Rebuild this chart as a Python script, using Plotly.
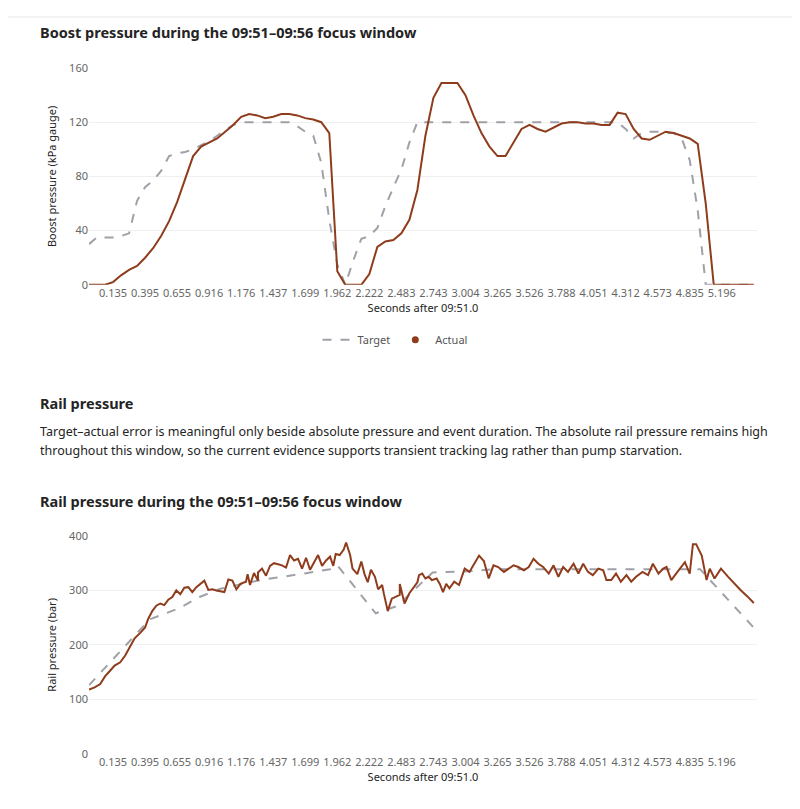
import plotly.graph_objects as go

# sample index -> timestamp label (every 4th sample labelled)
tick_idx = list(range(3, 80, 4))
tick_labels = ["0.135", "0.395", "0.655", "0.916", "1.176", "1.437", "1.699", "1.962", "2.222", "2.483",
               "2.743", "3.004", "3.265", "3.526", "3.788", "4.051", "4.312", "4.573", "4.835", "5.196"]

boost_target = [30, 35, 35, 35, 36, 38, 62, 72, 77, 84, 95, 97, 98, 100, 103, 106, 110, 114, 118, 120,
                120, 120, 120, 120, 120, 120, 117, 113, 110, 90, 48, 15, 0, 18, 34, 36, 42, 58, 72, 85,
                105, 120, 120, 120, 120, 120, 120, 120, 120, 120, 120, 120, 120, 120, 120, 120, 120, 120, 120, 120,
                120, 120, 120, 120, 120, 120, 120, 115, 108, 112, 113, 113, 112, 112, 108, 92, 55, 0, 0, 0,
                0, 0, 0, 0]
boost_actual = [0, 0, 0, 2, 7, 11, 14, 20, 27, 36, 47, 61, 78, 95, 102, 105, 108, 113, 118, 124,
                126, 125, 123, 124, 126, 126, 125, 123, 122, 120, 112, 10, 0, 0, 0, 8, 28, 32, 33, 38,
                48, 70, 110, 138, 149, 149, 149, 140, 125, 112, 102, 95, 95, 105, 115, 118, 115, 113, 116, 119,
                120, 120, 119, 119, 118, 118, 127, 126, 115, 108, 107, 110, 113, 112, 110, 108, 104, 60, 0, 0,
                0, 0, 0, 0]

rail_target_s = [0, 7.6, 11.2, 13.8, 16.4, 21.4, 26.4, 30.1, 31.0, 35.8, 38.2, 38.8, 42.9, 47.4, 50.5, 76.3, 83.4]
rail_target = [126, 247, 267, 288, 303, 319, 330, 339, 346, 258, 270, 276, 333, 335, 339, 339, 225]

rail_actual_s = [0, 0.7, 1.4, 2.0, 2.6, 3.2, 3.9, 4.5, 5.1, 5.7, 6.4, 7.0, 7.4, 7.9, 8.4, 8.9, 9.4, 9.9, 10.4, 10.9,
                 11.4, 11.9, 12.4, 12.9, 13.4, 13.9, 14.4, 14.9, 15.4, 15.9, 16.4, 16.9, 17.4, 17.9, 18.4, 18.9,
                 19.6, 19.8, 20.1, 20.6, 21.1, 21.1, 21.6, 22.1, 22.6, 23.1, 23.6, 24.1, 24.6, 25.1, 25.6, 26.1,
                 26.6, 27.1, 27.6, 28.1, 28.6, 29.1, 29.6, 30.1, 30.5, 30.8, 31.3, 31.8, 32.1, 32.6, 32.9, 33.5,
                 34.0, 34.4, 34.8, 35.2, 35.7, 36.1, 36.6, 36.8, 37.3, 37.8, 38.8,
                 38.8, 39.4, 40.0, 40.7, 41.0, 41.2, 41.6, 42.0, 42.4, 42.8, 43.4, 43.8, 44.2, 44.6, 45.0, 45.6,
                 46.2, 46.9, 47.5, 48.1, 48.7, 49.3, 49.9, 50.5, 51.1, 51.8, 52.4, 53.0, 53.6, 54.3, 54.9, 55.5,
                 56.1, 56.7, 57.4, 58.0, 58.6, 59.2, 59.8, 60.5, 61.1, 61.7, 62.3, 62.9, 63.6, 64.2, 64.6, 65.2,
                 65.8, 66.4, 67.1, 67.7, 68.3, 69.1, 69.8, 70.4, 71.1, 71.7, 72.1, 72.7, 73.3, 73.8, 74.4, 75.0,
                 75.4, 75.8, 76.5, 77.1, 77.5, 78.1, 78.9, 79.8, 80.6, 81.4, 82.2, 83.0]
rail_actual = [118, 122, 128, 142, 152, 162, 168, 180, 196, 212, 222, 232, 248, 262, 272, 276, 273, 283, 288, 300,
               293, 305, 306, 297, 306, 312, 318, 301, 302, 300, 298, 297, 320, 318, 302, 312,
               316, 330, 310, 332, 318, 333, 340, 327, 345, 350, 348, 346, 342, 365, 355, 358,
               340, 360, 338, 352, 365, 345, 355, 362, 345, 367, 365, 375, 388, 365, 340, 330,
               353, 330, 315, 338, 325, 302, 310, 295, 262, 285, 292,
               312, 276, 295, 310, 315, 328, 331, 322, 325, 319, 322, 312, 297, 312, 304, 316,
               310, 340, 334, 349, 364, 354, 322, 346, 343, 334, 340, 346, 343, 337, 343, 358,
               349, 343, 331, 346, 325, 343, 334, 349, 331, 349, 334, 328, 340, 337, 319, 319,
               331, 316, 328, 316, 325, 334, 328, 349, 331, 340, 343, 319, 331, 340, 352, 331,
               385, 385, 364, 319, 340, 322, 340, 325, 312, 300, 289, 277]

BROWN = "#8f3c1c"
GRAY = "#a0a0a8"
INK = "#242424"

# page body has an 8px margin, so the figure is sized to fit inside the window
W, H, OFF = 784, 793, 8


def fx(px):
    return (px - OFF) / W


def fy(py):
    return 1 - (py - OFF) / H


fig = go.Figure()
fig.add_trace(go.Scatter(x=list(range(len(boost_target))), y=boost_target, mode="lines",
                         line=dict(color=GRAY, width=2, dash="dash"), showlegend=False))
fig.add_trace(go.Scatter(x=list(range(len(boost_actual))), y=boost_actual, mode="lines",
                         line=dict(color=BROWN, width=2), showlegend=False))
fig.add_trace(go.Scatter(x=rail_target_s, y=rail_target, mode="lines", xaxis="x2", yaxis="y2",
                         line=dict(color=GRAY, width=2, dash="dash"), showlegend=False))
fig.add_trace(go.Scatter(x=rail_actual_s, y=rail_actual, mode="lines", xaxis="x2", yaxis="y2",
                         line=dict(color=BROWN, width=2), showlegend=False))
# legend entries
fig.add_trace(go.Scatter(x=[None], y=[None], mode="lines", name="Target",
                         line=dict(color=GRAY, width=2, dash="dash")))
fig.add_trace(go.Scatter(x=[None], y=[None], mode="markers", name="Actual",
                         marker=dict(color=BROWN, size=7)))

xax = dict(range=[0, 83.4], tickmode="array", tickvals=tick_idx, ticktext=tick_labels,
           showgrid=False, zeroline=False, showline=False, ticks="",
           tickfont=dict(size=11, color="#666"), title_font=dict(size=11, color=INK),
           title_standoff=4, domain=[fx(89), fx(757)])
yax = dict(showgrid=True, gridcolor="#efefef", zeroline=False, showline=False,
           tickfont=dict(size=11, color="#666"), title_font=dict(size=11, color=INK), title_standoff=10)

fig.update_layout(
    width=W, height=H, margin=dict(l=0, r=0, t=0, b=0),
    paper_bgcolor="white", plot_bgcolor="white",
    font=dict(family="Noto Sans", color=INK),
    xaxis=dict(xax, anchor="y", title_text="Seconds after 09:51.0"),
    yaxis=dict(yax, domain=[fy(282), fy(61)], range=[0, 160], dtick=40,
               title_text="Boost pressure (kPa gauge)"),
    xaxis2=dict(xax, anchor="y2", title_text="Seconds after 09:51.0"),
    yaxis2=dict(yax, domain=[fy(760), fy(538)], range=[0, 400], dtick=100,
                title_text="Rail pressure (bar)", anchor="x2"),
    legend=dict(orientation="h", x=fx(395), xanchor="center", y=fy(338), yanchor="middle",
                font=dict(size=11, color="#555")),
    shapes=[dict(type="line", xref="paper", yref="paper", x0=0, x1=1, y0=fy(9), y1=fy(9),
                 line=dict(color="#e6e6e6", width=1))],
)


def txt(t, y, size, bold=False, color=INK):
    fig.add_annotation(text=f"<b>{t}</b>" if bold else t, xref="paper", yref="paper",
                       x=fx(38), y=fy(y), xanchor="left", yanchor="middle",
                       showarrow=False, align="left", font=dict(size=size, color=color))


txt("Boost pressure during the 09:51–09:56 focus window", 24, 14.5, bold=True)
txt("Rail pressure", 402, 14.5, bold=True)
txt("Target–actual error is meaningful only beside absolute pressure and event duration. The absolute rail pressure remains high", 432, 12.5)
txt("throughout this window, so the current evidence supports transient tracking lag rather than pump starvation.", 451, 12.5)
txt("Rail pressure during the 09:51–09:56 focus window", 502, 14.5, bold=True)

fig.write_html("out.html")
